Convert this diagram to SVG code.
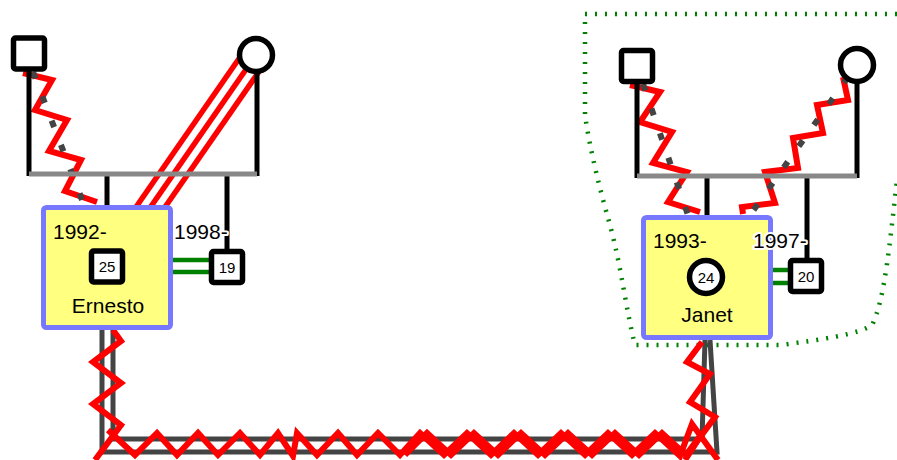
<svg xmlns="http://www.w3.org/2000/svg" width="897" height="460" viewBox="0 0 897 460">
<style>
.fl{stroke:#000;stroke-width:5;fill:none}
.bar{stroke:#888;stroke-width:5;fill:none}
.zz{stroke:#f00;stroke-width:6;fill:none;stroke-linejoin:miter;stroke-miterlimit:3}
.red{stroke:#f00;stroke-width:5.5;fill:none}
.dash{stroke:#444;stroke-width:6;stroke-dasharray:7 19;fill:none}
.dbl{stroke:#444;stroke-width:5;fill:none}
.grn{stroke:#008000;stroke-width:4.5;fill:none}
.hull{stroke:#008000;stroke-width:4.5;fill:none;stroke-dasharray:2 8}
.box{fill:#ffff80;stroke:#7777ff;stroke-width:5}
.nd{fill:#fff;stroke:#000;stroke-width:5.5}
text{font-family:"Liberation Sans",Arial,sans-serif;fill:#000}
.t{font-size:21px}
.n{font-size:15px;text-anchor:middle}
.c{text-anchor:middle}
.halo{stroke:#fff;stroke-width:4;paint-order:stroke;stroke-linejoin:round}
</style>
<g id="hull">
<path class="hull" d="M897,14 L585,14 L585,115 C590,150 600,190 610,225 C622,270 626,310 635,345 L780,345 C820,340 860,334 872,325 C885,300 890,240 897,180"/>
</g>
<g id="connectors">
<path class="dbl" d="M102,330 V452 H717 L710,340"/>
<path class="dbl" d="M113,330 V439 H702 L705,340"/>
<path class="red" d="M132.6,212 L241.5,55"/>
<path class="red" d="M147.1,212 L256,55"/>
<path class="red" d="M161.6,212 L270.5,55"/>
<polyline class="zz" points="23,73 52,80 35,110 67,120 49,151 81,160 65,191 97,202"/>
<line class="dash" x1="33" y1="72" x2="84" y2="205"/>
<polyline class="zz" points="630,85 660,92 640,122 672,132 653,163 687,172 668,202 700,212"/>
<line class="dash" x1="643" y1="84" x2="688" y2="215"/>
<polyline class="zz" points="843,77 848,100 817,105 823,133 793,138 798,168 765,172 775,203 742,207 743,214"/>
<line class="dash" x1="848" y1="77" x2="750" y2="215"/>
<polyline class="zz" points="113,330 121,341 93,362 121,383 93,404 121,425 95,460"/>
<polyline class="zz" points="108,430 135,455 157,433 177,455 198,433 218,455 240,433 260,455 278,433 293,456 297,433 317,455 338,433 357,455 378,433 400,455 420,433 444,455 467,433 491,455 514,433 538,455 561,433 585,455 608,433 632,455 655,433 680,456 692,424 718,460"/>
<polyline class="zz" points="405,455 427,433 451,455 474,433 498,455 521,433 545,455 568,433 592,455 615,433 639,455 662,433 686,455 700,436"/>
<polyline class="zz" points="702,342 687,362 710,374 690,402 715,417 698,440 685,460"/>
<line class="grn" x1="173" y1="260" x2="211" y2="260"/>
<line class="grn" x1="173" y1="272" x2="211" y2="272"/>
<line class="grn" x1="773" y1="270" x2="790" y2="270"/>
<line class="grn" x1="773" y1="283" x2="790" y2="283"/>
</g>
<g id="family-left">
<line class="fl" x1="29" y1="70" x2="29" y2="176"/>
<line class="fl" x1="257" y1="70" x2="257" y2="176"/>
<line class="fl" x1="107" y1="174" x2="107" y2="207"/>
<line class="fl" x1="227" y1="174" x2="227" y2="252"/>
<line class="bar" x1="29" y1="174" x2="257" y2="174"/>
</g>
<g id="family-right">
<line class="fl" x1="637" y1="82" x2="637" y2="178"/>
<line class="fl" x1="857" y1="82" x2="857" y2="178"/>
<line class="fl" x1="707" y1="176" x2="707" y2="217"/>
<line class="fl" x1="807" y1="176" x2="807" y2="261"/>
<line class="bar" x1="637" y1="176" x2="857" y2="176"/>
</g>
<g id="father-left"><rect class="nd" x="13.5" y="38" width="31" height="31" rx="2"/></g>
<g id="mother-left"><circle class="nd" cx="256" cy="55" r="16.5"/></g>
<g id="father-right"><rect class="nd" x="621.5" y="50.5" width="31" height="31" rx="2"/></g>
<g id="mother-right"><circle class="nd" cx="857" cy="65" r="16.5"/></g>
<g id="ernesto">
<rect class="box" x="43.5" y="207.5" width="127" height="120" rx="3"/>
<text class="t" x="53" y="239">1992-</text>
<rect class="nd" x="91.5" y="251" width="31" height="31" rx="2"/>
<text class="n" x="107" y="272">25</text>
<text class="t c" x="108" y="313">Ernesto</text>
</g>
<g id="janet">
<rect class="box" x="643.5" y="217.5" width="127" height="120" rx="3"/>
<text class="t" x="653" y="248">1993-</text>
<circle class="nd" cx="706" cy="277" r="16.5"/>
<text class="n" x="706" y="282.5">24</text>
<text class="t c" x="707" y="322">Janet</text>
</g>
<g id="partner-19">
<rect class="nd" x="211.5" y="251.5" width="31" height="31" rx="2"/>
<text class="n" x="227" y="272.5">19</text>
<text class="t halo" x="174" y="239">1998-</text>
</g>
<g id="partner-20">
<rect class="nd" x="790.5" y="260.5" width="31" height="31" rx="2"/>
<text class="n" x="806" y="281.5">20</text>
<text class="t halo" x="753" y="248">1997-</text>
</g>
</svg>
